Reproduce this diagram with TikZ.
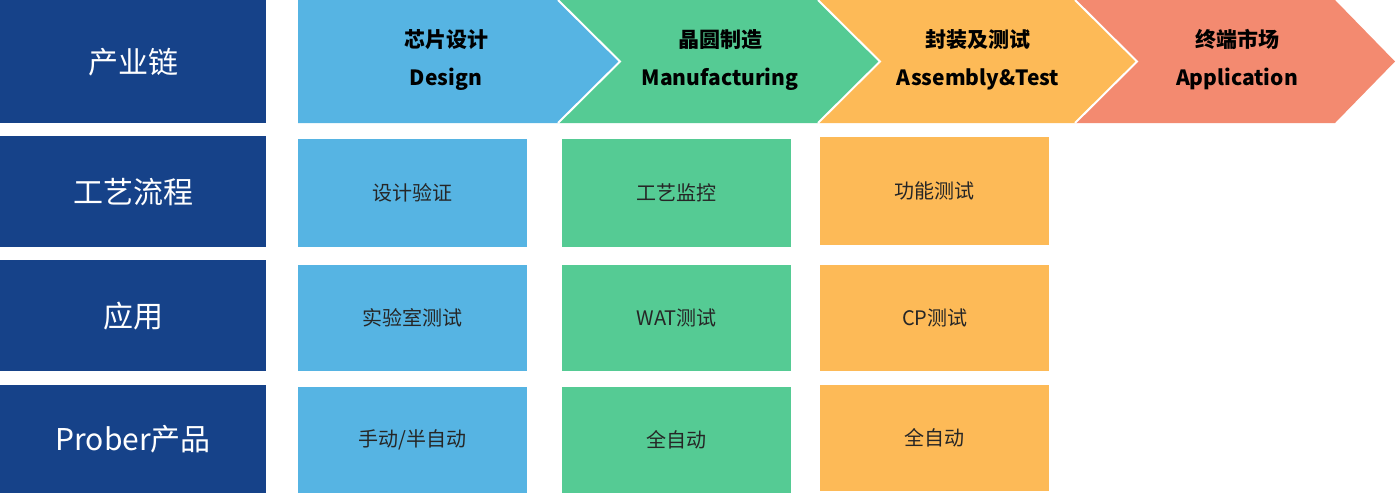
\documentclass[tikz,border=0pt]{standalone}
\usepackage{fontspec}
\setmainfont{Noto Sans CJK SC}
\newfontfamily\cjkbold[BoldFont={Noto Sans CJK SC Bold}]{Noto Sans CJK SC}
\definecolor{navy}{HTML}{164289}
\definecolor{cblue}{HTML}{56B4E3}
\definecolor{cgreen}{HTML}{55CB94}
\definecolor{corange}{HTML}{FDBA57}
\definecolor{csalmon}{HTML}{F38A70}
\begin{document}
\begin{tikzpicture}[x=1pt,y=-1pt,
  lab/.style={fill=navy,text=white,font=\fontsize{30}{34}\selectfont,minimum width=266pt,inner sep=0pt},
  box/.style={minimum width=229pt,inner sep=0pt,font=\fontsize{20}{24}\selectfont,text=black!85},
  chev/.style={draw=white,line width=2pt}]
\useasboundingbox (0,0) rectangle (1400,495);
\node[lab,minimum height=123pt,anchor=north west] (l1) at (0,0) {产业链};
\node[lab,minimum height=111pt,anchor=north west] (l2) at (0,136) {工艺流程};
\node[lab,minimum height=111pt,anchor=north west] (l3) at (0,260) {应用};
\node[lab,minimum height=108pt,anchor=north west] (l4) at (0,385) {Prober产品};
% chevrons
\fill[csalmon] (1075,0) -- (1335,0) -- (1395,61.5) -- (1335,123) -- (1075,123) -- (1137,61.5) -- cycle;
\fill[corange] (818,0) -- (1075,0) -- (1137,61.5) -- (1075,123) -- (818,123) -- (880,61.5) -- cycle;
\fill[cgreen] (558,0) -- (818,0) -- (880,61.5) -- (818,123) -- (558,123) -- (620,61.5) -- cycle;
\fill[cblue] (298,0) -- (558,0) -- (620,61.5) -- (558,123) -- (298,123) -- cycle;
\draw[chev] (558,0) -- (620,61.5) -- (558,123);
\draw[chev] (818,0) -- (880,61.5) -- (818,123);
\draw[chev] (1075,0) -- (1137,61.5) -- (1075,123);
\node[align=center,font=\fontsize{21}{38}\selectfont\bfseries] (c1) at (446,60) {芯片设计\\Design};
\node[align=center,font=\fontsize{21}{38}\selectfont\bfseries] (c2) at (720,60) {晶圆制造\\Manufacturing};
\node[align=center,font=\fontsize{21}{38}\selectfont\bfseries] (c3) at (978,60) {封装及测试\\Assembly\&Test};
\node[align=center,font=\fontsize{21}{38}\selectfont\bfseries] (c4) at (1237,60) {终端市场\\Application};
% boxes
\node[box,fill=cblue,minimum height=108pt,anchor=north west] (b11) at (298,139) {设计验证};
\node[box,fill=cgreen,minimum height=108pt,anchor=north west] (b12) at (562,139) {工艺监控};
\node[box,fill=corange,minimum height=108pt,anchor=north west] (b13) at (820,137) {功能测试};
\node[box,fill=cblue,minimum height=106pt,anchor=north west] (b21) at (298,265) {实验室测试};
\node[box,fill=cgreen,minimum height=106pt,anchor=north west] (b22) at (562,265) {WAT测试};
\node[box,fill=corange,minimum height=106pt,anchor=north west] (b23) at (820,265) {CP测试};
\node[box,fill=cblue,minimum height=106pt,anchor=north west] (b31) at (298,387) {手动/半自动};
\node[box,fill=cgreen,minimum height=106pt,anchor=north west] (b32) at (562,387) {全自动};
\node[box,fill=corange,minimum height=106pt,anchor=north west] (b33) at (820,385) {全自动};
\end{tikzpicture}
\end{document}
